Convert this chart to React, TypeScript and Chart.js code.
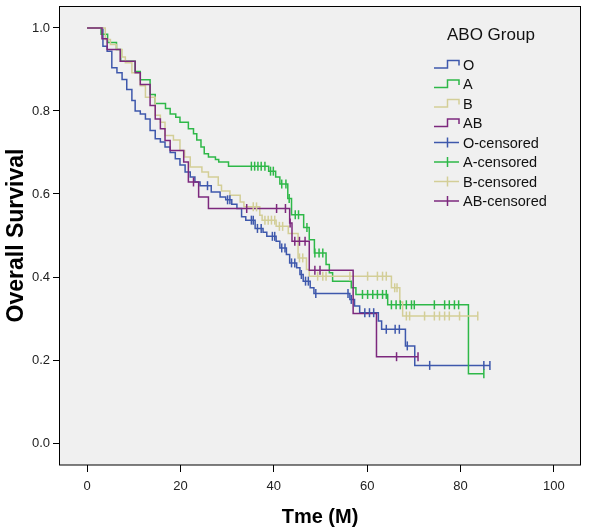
import React, { useEffect, useRef } from 'react';
import { Chart, registerables } from 'chart.js';

Chart.register(...registerables);

// ---------- DATA ----------
const groupNames = ['O', 'A', 'B', 'AB'];
const groupColors = ['#3E58AC', '#2EB848', '#D3CE97', '#7C287D'];

const oTimes = [0, 3.4, 4.3, 5.3, 6.4, 7.5, 8.5, 9.6, 10.3, 11.4, 12.5, 13.5, 14.6, 15.7, 16.7, 17.8, 18.9, 19.9, 21.0, 22.1, 23.1, 24.2, 26.6, 28.5, 29.7, 31.0, 32.1, 33.1, 34.0, 36.0, 37.7, 38.5, 40.5, 41.3, 42.7, 43.4, 44.9, 45.6, 46.3, 47.8, 48.6, 56.3, 57.3, 58.4, 62.4, 63.1, 68.2, 70.2];
const oSurv = [1.0, 0.956, 0.944, 0.904, 0.892, 0.876, 0.852, 0.825, 0.80, 0.793, 0.781, 0.753, 0.733, 0.725, 0.713, 0.70, 0.685, 0.67, 0.653, 0.641, 0.629, 0.62, 0.605, 0.593, 0.586, 0.575, 0.565, 0.545, 0.537, 0.517, 0.508, 0.498, 0.486, 0.47, 0.454, 0.434, 0.422, 0.406, 0.39, 0.374, 0.36, 0.346, 0.33, 0.314, 0.294, 0.274, 0.234, 0.187];
const oCensored = [25.8, 30.1, 30.6, 35.2, 35.6, 36.5, 37.3, 39.7, 40.2, 41.7, 42.4, 43.8, 44.5, 45.9, 46.8, 47.4, 49.0, 55.9, 56.6, 59.5, 60.5, 61.4, 64.1, 66.0, 66.9, 68.6, 73.4, 85.0, 86.3];

const aTimes = [0, 3.0, 4.4, 6.3, 7.2, 10.3, 11.4, 13.5, 14.6, 16.8, 17.8, 19.0, 19.9, 21.7, 22.8, 23.5, 24.4, 25.1, 26.0, 27.5, 28.2, 30.3, 38.9, 40.4, 41.3, 43.0, 43.8, 46.4, 47.6, 48.7, 51.2, 51.9, 52.6, 56.6, 57.6, 64.4, 81.7];
const aSurv = [1.0, 0.985, 0.965, 0.948, 0.92, 0.895, 0.875, 0.84, 0.818, 0.806, 0.793, 0.785, 0.773, 0.757, 0.745, 0.73, 0.713, 0.697, 0.689, 0.683, 0.677, 0.667, 0.655, 0.641, 0.624, 0.589, 0.55, 0.519, 0.49, 0.458, 0.43, 0.41, 0.39, 0.374, 0.358, 0.333, 0.167];
const aCensored = [35.2, 35.9, 36.6, 37.3, 38.1, 39.3, 39.9, 41.7, 42.6, 43.3, 44.6, 45.3, 47.1, 48.8, 49.7, 50.5, 59.0, 60.1, 61.2, 62.2, 63.3, 64.1, 65.2, 66.2, 67.1, 68.4, 69.5, 70.1, 74.4, 76.6, 77.6, 78.7, 79.6, 85.0];

const bTimes = [0, 3.9, 5.0, 6.3, 7.5, 8.2, 9.6, 11.4, 12.5, 14.6, 15.7, 16.7, 18.5, 19.9, 20.9, 22.1, 24.6, 26.0, 28.1, 28.8, 30.6, 32.8, 33.6, 37.0, 37.5, 40.5, 43.1, 45.2, 47.0, 47.6, 65.2, 67.0, 67.6];
const bSurv = [1.0, 0.972, 0.96, 0.948, 0.93, 0.916, 0.892, 0.861, 0.833, 0.79, 0.773, 0.741, 0.73, 0.705, 0.689, 0.665, 0.653, 0.641, 0.621, 0.607, 0.597, 0.581, 0.569, 0.549, 0.537, 0.522, 0.505, 0.446, 0.418, 0.402, 0.374, 0.34, 0.306];
const bCensored = [35.6, 36.3, 38.1, 38.8, 39.5, 40.2, 41.2, 41.9, 45.5, 46.2, 49.4, 50.5, 51.2, 56.3, 60.1, 62.2, 63.3, 64.1, 65.9, 66.4, 68.4, 69.1, 72.3, 74.4, 75.5, 76.6, 77.6, 79.8, 83.7];

const abTimes = [0, 3.2, 4.3, 7.1, 10.3, 11.4, 13.5, 14.6, 15.7, 16.7, 17.8, 20.7, 21.7, 23.9, 26.0, 43.4, 43.9, 47.6, 57.0, 62.0];
const abSurv = [1.0, 0.974, 0.948, 0.92, 0.892, 0.864, 0.813, 0.781, 0.757, 0.729, 0.705, 0.677, 0.629, 0.593, 0.565, 0.53, 0.486, 0.416, 0.312, 0.208];
const abCensored = [22.8, 34.2, 40.6, 42.5, 43.5, 44.5, 45.5, 46.7, 48.8, 49.9, 66.3, 70.9];

const xTickValues = [0, 20, 40, 60, 80, 100];
const xTickLabels = ['0', '20', '40', '60', '80', '100'];
const yTickValues = [0, 0.2, 0.4, 0.6, 0.8, 1.0];
const yTickLabels = ['0.0', '0.2', '0.4', '0.6', '0.8', '1.0'];

const xTitle = 'Tme (M)';
const yTitle = 'Overall Survival';
const legendTitle = 'ABO Group';

// ---------- helpers ----------
const FONT = "'Liberation Sans', Arial, Helvetica, sans-serif";

function survivalAt(times: number[], surv: number[], t: number) {
  let s = surv[0];
  for (let i = 0; i < times.length; i++) if (times[i] <= t) s = surv[i];
  return s;
}

function stepData(times: number[], surv: number[], censored: number[]) {
  const pts = times.map((t, i) => ({ x: t, y: surv[i] }));
  const end = Math.max(times[times.length - 1], censored[censored.length - 1]);
  pts.push({ x: end, y: surv[surv.length - 1] });
  return pts;
}

const groups = [
  { times: oTimes, surv: oSurv, cens: oCensored },
  { times: aTimes, surv: aSurv, cens: aCensored },
  { times: bTimes, surv: bSurv, cens: bCensored },
  { times: abTimes, surv: abSurv, cens: abCensored },
];

const framePlugin = {
  id: 'frameAndLegend',
  beforeDraw(chart: any) {
    const { ctx, chartArea } = chart;
    const { left, top, right, bottom } = chartArea;
    ctx.save();
    ctx.fillStyle = '#ffffff';
    ctx.fillRect(0, 0, chart.width, chart.height);
    ctx.fillStyle = '#F0F0F0';
    ctx.fillRect(left, top, right - left, bottom - top);
    ctx.restore();
  },
  afterDraw(chart: any) {
    const { ctx, chartArea } = chart;
    const { left, top, right, bottom } = chartArea;
    ctx.save();
    ctx.strokeStyle = '#000';
    ctx.lineWidth = 1;
    ctx.strokeRect(Math.round(left) - 0.5, Math.round(top) + 0.5, Math.round(right - left) + 1, Math.round(bottom - top) - 0.5);

    // legend
    ctx.fillStyle = '#111';
    ctx.textBaseline = 'middle';
    ctx.textAlign = 'left';
    ctx.font = `17px ${FONT}`;
    ctx.fillText(legendTitle, 447, 35);
    ctx.font = `14.5px ${FONT}`;
    const rowY0 = 64.5;
    const rowStep = 19.5;
    const x0 = 434, x1 = 459, xm = 447.5;
    ctx.lineWidth = 1.5;
    for (let k = 0; k < 8; k++) {
      const g = k % 4;
      const yc = rowY0 + k * rowStep;
      ctx.strokeStyle = groupColors[g];
      ctx.beginPath();
      if (k < 4) {
        ctx.moveTo(x0, yc + 3.5);
        ctx.lineTo(xm, yc + 3.5);
        ctx.lineTo(xm, yc - 4);
        ctx.lineTo(x1, yc - 4);
        ctx.lineTo(x1, yc + 1);
      } else {
        ctx.moveTo(x0, yc);
        ctx.lineTo(x1, yc);
        ctx.moveTo(xm, yc - 5);
        ctx.lineTo(xm, yc + 5);
      }
      ctx.stroke();
      ctx.fillStyle = '#111';
      ctx.fillText(k < 4 ? groupNames[g] : groupNames[g] + '-censored', 463, yc + 1);
    }
    ctx.restore();
  },
};

export default function App() {
  const canvasRef = useRef<HTMLCanvasElement | null>(null);

  useEffect(() => {
    if (!canvasRef.current) return;
    const lineDatasets = groups.map((g, i) => ({
      type: 'line' as const,
      label: groupNames[i],
      data: stepData(g.times, g.surv, g.cens),
      stepped: true,
      borderColor: groupColors[i],
      backgroundColor: groupColors[i],
      borderWidth: 1.5,
      pointRadius: 0,
      fill: false,
      order: 7 - i,
    }));
    const censDatasets = groups.map((g, i) => ({
      type: 'line' as const,
      label: groupNames[i] + '-censored',
      data: g.cens.map((t) => ({ x: t, y: survivalAt(g.times, g.surv, t) })),
      showLine: false,
      pointStyle: 'line',
      rotation: 90,
      pointRadius: 4.5,
      pointBorderWidth: 1.5,
      borderColor: groupColors[i],
      backgroundColor: groupColors[i],
      order: 3 - i,
    }));

    const chart = new Chart(canvasRef.current, {
      type: 'line',
      data: { datasets: [...lineDatasets, ...censDatasets] as any },
      options: {
        responsive: false,
        animation: false,
        devicePixelRatio: 1,
        layout: { padding: { top: 3, right: 20, bottom: 0, left: 0 } },
        plugins: { legend: { display: false }, tooltip: { enabled: false } },
        scales: {
          x: {
            type: 'linear',
            min: -5.8,
            max: 105.6,
            afterBuildTicks: (s: any) => {
              s.ticks = xTickValues.map((v) => ({ value: v }));
            },
            afterFit: (s: any) => {
              s.height = 66;
              s.paddingLeft = 0;
              s.paddingRight = 0;
            },
            ticks: {
              autoSkip: false,
              maxRotation: 0,
              padding: 7,
              color: '#222',
              font: { family: FONT, size: 13 },
              callback: (v: any) => {
                const idx = xTickValues.indexOf(Number(v));
                return idx >= 0 ? xTickLabels[idx] : '';
              },
            },
            grid: { display: true, drawOnChartArea: false, drawTicks: true, tickLength: 7, color: '#000', lineWidth: 1 },
            border: { display: false },
            title: {
              display: true,
              text: xTitle,
              color: '#000',
              font: { family: FONT, size: 20, weight: 'bold', lineHeight: 1.2 },
              padding: { top: 0, bottom: 2 },
            },
          },
          y: {
            type: 'linear',
            min: -0.053,
            max: 1.053,
            afterBuildTicks: (s: any) => {
              s.ticks = yTickValues.map((v) => ({ value: v }));
            },
            afterFit: (s: any) => {
              s.width = 60;
              s.paddingTop = 0;
              s.paddingBottom = 0;
            },
            ticks: {
              autoSkip: false,
              padding: 3,
              color: '#222',
              font: { family: FONT, size: 13 },
              callback: (v: any) => {
                const idx = yTickValues.findIndex((t) => Math.abs(t - Number(v)) < 1e-6);
                return idx >= 0 ? yTickLabels[idx] : '';
              },
            },
            grid: { display: true, drawOnChartArea: false, drawTicks: true, tickLength: 7, color: '#000', lineWidth: 1 },
            border: { display: false },
            title: {
              display: true,
              text: yTitle,
              color: '#000',
              font: { family: FONT, size: 23, weight: 'bold', lineHeight: 1.2 },
              padding: { top: 3, bottom: 0 },
            },
          },
        },
      } as any,
      plugins: [framePlugin],
    });
    return () => chart.destroy();
  }, []);

  return (
    <div style={{ position: 'absolute', left: 0, top: 0, width: 600, height: 531, background: '#fff' }}>
      <canvas ref={canvasRef} width={600} height={531} style={{ display: 'block', width: 600, height: 531 }} />
    </div>
  );
}
